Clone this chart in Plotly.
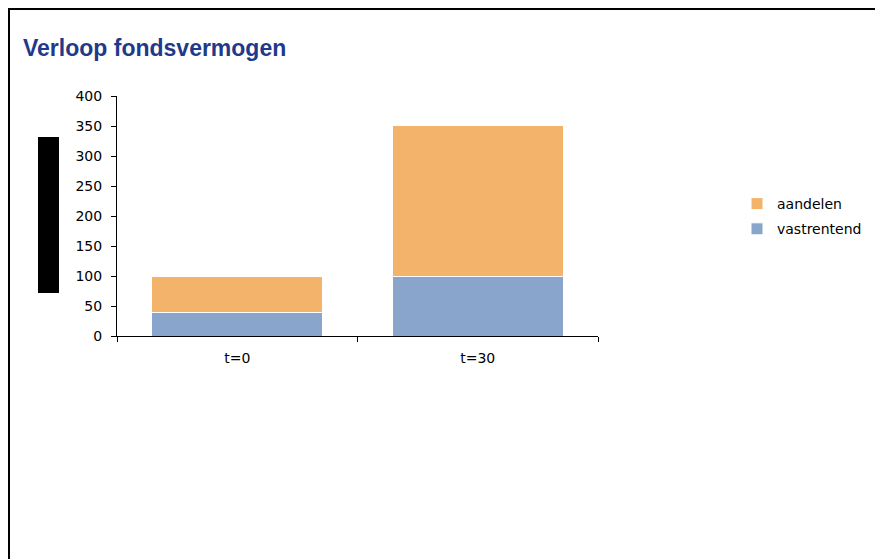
import plotly.graph_objects as go

categories = ["t=0", "t=30"]
vastrentend = [40, 100]
aandelen = [60, 251]
y_ticks = [0, 50, 100, 150, 200, 250, 300, 350, 400]

W, H = 875, 559
L, R, T, B = 117, 875 - 598, 96, 559 - 336
pw, ph = W - L - R, H - T - B

def px(x):
    return (x - L) / pw

def py(y):
    return (H - B - y) / ph

fig = go.Figure()
fig.add_trace(go.Bar(x=categories, y=vastrentend, name="vastrentend",
                     marker=dict(color="#89A5CB", line=dict(color="white", width=1)),
                     legendgroup="v", legendrank=2))
fig.add_trace(go.Bar(x=categories, y=aandelen, name="aandelen",
                     marker=dict(color="#F4B36A", line=dict(color="white", width=1)),
                     legendgroup="a", legendrank=1))

font = "DejaVu Sans, Verdana, sans-serif"
tfont = "Liberation Sans, Arial, sans-serif"
fig.update_layout(
    width=W, height=H,
    margin=dict(l=L, r=R, t=T, b=B, pad=0, autoexpand=False),
    barmode="stack", bargap=0.29,
    plot_bgcolor="white", paper_bgcolor="white",
    font=dict(family=font, size=14, color="#000"),
    title=dict(text="<b>Verloop fondsvermogen</b>", x=23 / W, xanchor="left",
               xref="container", y=1 - 48 / H, yanchor="middle", yref="container",
               font=dict(family=tfont, size=23, color="#1F3A8A")),
    showlegend=True,
    legend=dict(xref="container", yref="container", x=737 / W, y=1 - 188 / H,
                xanchor="left", yanchor="top",
                traceorder="grouped", tracegroupgap=4,
                font=dict(family=font, size=14), bgcolor="rgba(0,0,0,0)"),
    xaxis=dict(showline=True, linecolor="#000", linewidth=1, ticks="outside",
               tickson="boundaries", ticklen=5, tickcolor="#000",
               showgrid=False, ticklabelstandoff=9, fixedrange=True),
    yaxis=dict(range=[0, 400], tickvals=y_ticks, showline=True, linecolor="#000",
               linewidth=1, ticks="outside", ticklen=5, tickcolor="#000",
               showgrid=False, zeroline=False, ticklabelstandoff=6, fixedrange=True),
    shapes=[
        dict(type="rect", xref="paper", yref="paper",
             x0=px(9), x1=px(890), y0=py(580), y1=py(9),
             line=dict(color="#000", width=2), fillcolor="rgba(0,0,0,0)", layer="above"),
        dict(type="rect", xref="paper", yref="paper",
             x0=px(38), x1=px(59), y0=py(293), y1=py(137),
             line=dict(width=0), fillcolor="#000", layer="above"),
    ],
)

fig.write_html("out.html", config={"displayModeBar": False},
               post_script="document.body.style.margin='0';document.body.style.overflow='hidden';")
